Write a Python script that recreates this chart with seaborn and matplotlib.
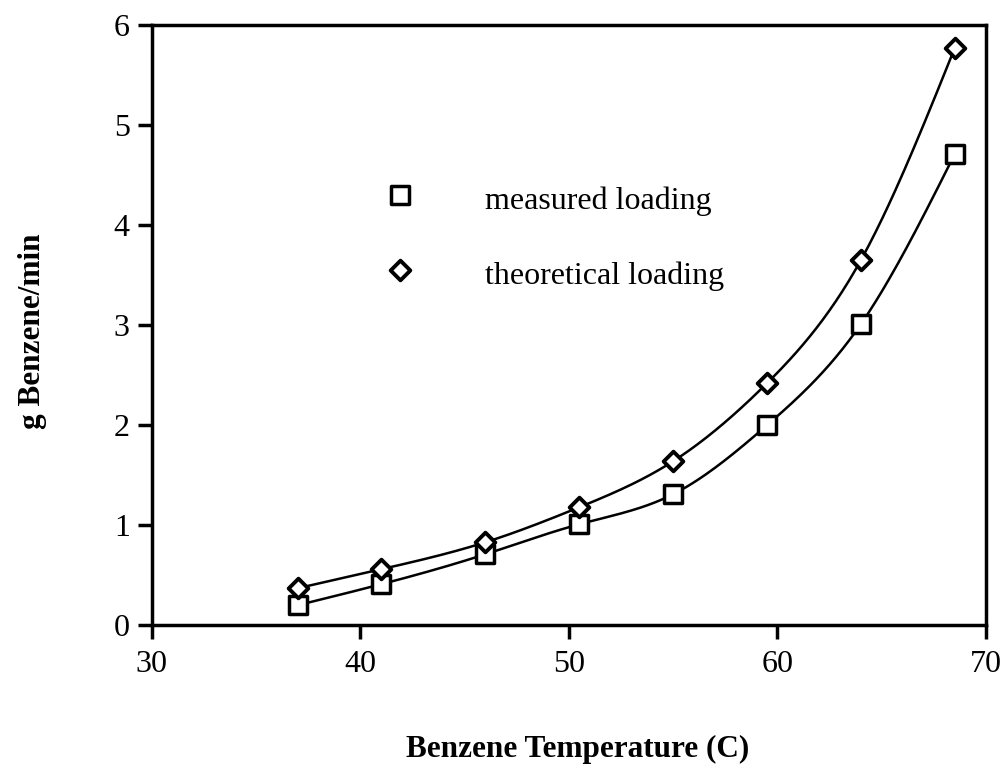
import numpy as np
import pandas as pd
import seaborn as sns
import matplotlib.pyplot as plt

# values
temp = [37, 41, 46, 50.5, 55, 59.5, 64, 68.5]
measured = [0.20, 0.41, 0.71, 1.01, 1.31, 2.00, 3.01, 4.71]
theoretical = [0.37, 0.56, 0.83, 1.18, 1.64, 2.42, 3.65, 5.77]


def natural_spline(x, y, n=300):
    # natural cubic spline through the points, for the smooth curves
    x = np.asarray(x, float)
    y = np.asarray(y, float)
    k = len(x)
    h = np.diff(x)
    A = np.zeros((k, k))
    b = np.zeros(k)
    A[0, 0] = A[-1, -1] = 1
    for i in range(1, k - 1):
        A[i, i - 1] = h[i - 1]
        A[i, i] = 2 * (h[i - 1] + h[i])
        A[i, i + 1] = h[i]
        b[i] = 3 * ((y[i + 1] - y[i]) / h[i] - (y[i] - y[i - 1]) / h[i - 1])
    c = np.linalg.solve(A, b)
    xs = np.linspace(x[0], x[-1], n)
    idx = np.clip(np.searchsorted(x, xs) - 1, 0, k - 2)
    dx = xs - x[idx]
    bb = (y[idx + 1] - y[idx]) / h[idx] - h[idx] * (2 * c[idx] + c[idx + 1]) / 3
    d = (c[idx + 1] - c[idx]) / (3 * h[idx])
    ys = y[idx] + bb * dx + c[idx] * dx ** 2 + d * dx ** 3
    return xs, ys


df = pd.DataFrame({'Temp': temp, 'measured loading': measured,
                   'theoretical loading': theoretical})

sns.set_style('ticks', {'text.color': 'black', 'axes.labelcolor': 'black',
                        'xtick.color': 'black', 'ytick.color': 'black',
                        'axes.edgecolor': 'black'})
plt.rcParams['font.family'] = ['Liberation Serif', 'DejaVu Serif']

fig = plt.figure(figsize=(10.06, 7.69), dpi=100)
ax = fig.add_axes([0.151, 0.187, 0.829, 0.780])

for col in ['measured loading', 'theoretical loading']:
    xs, ys = natural_spline(df['Temp'], df[col])
    sns.lineplot(x=xs, y=ys, ax=ax, color='black', linewidth=1.8, sort=False)

sq_s, di_s = 170, 100
sns.scatterplot(data=df, x='Temp', y='measured loading', ax=ax, marker='s', s=sq_s,
                facecolor='white', edgecolor='black', linewidth=2.5, zorder=3)
sns.scatterplot(data=df, x='Temp', y='theoretical loading', ax=ax, marker='D', s=di_s,
                facecolor='white', edgecolor='black', linewidth=2.8, zorder=3)

# legend drawn as text block inside the plot
ax.scatter([41.9], [4.3], marker='s', s=sq_s, facecolor='white', edgecolor='black', linewidth=2.5)
ax.scatter([41.9], [3.55], marker='D', s=di_s, facecolor='white', edgecolor='black', linewidth=2.8)
ax.text(46.0, 4.24, 'measured loading', fontsize=23, va='center', ha='left', color='black')
ax.text(46.0, 3.49, 'theoretical loading', fontsize=23, va='center', ha='left', color='black')

ax.set_xlim(30, 70)
ax.set_ylim(0, 6)
ax.set_xticks([30, 40, 50, 60, 70])
ax.set_yticks([0, 1, 2, 3, 4, 5, 6])
ax.tick_params(axis='both', labelsize=23, width=2.5, length=10, direction='out',
               colors='black')
ax.tick_params(axis='x', pad=8)
ax.tick_params(axis='y', pad=6)
for s in ax.spines.values():
    s.set_linewidth(2.5)
    s.set_color('black')

ax.set_xlabel('Benzene Temperature (C)', fontsize=22.5, fontweight='bold', color='black')
ax.set_ylabel('g Benzene/min', fontsize=22.5, fontweight='bold', color='black')
ax.xaxis.set_label_coords(0.511, -0.183)
ax.yaxis.set_label_coords(-0.126, 0.49)

plt.savefig('out.png', dpi=100)
